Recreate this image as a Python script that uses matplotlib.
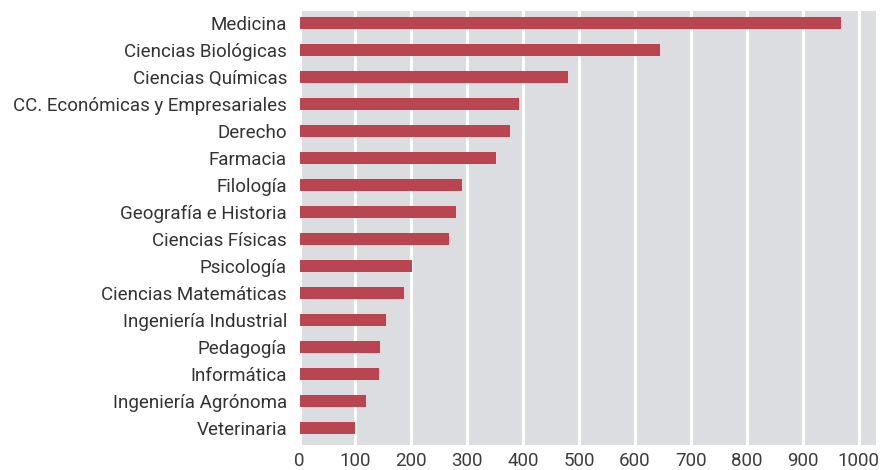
import matplotlib
matplotlib.use("Agg")
import matplotlib.pyplot as plt

categories = ["Medicina", "Ciencias Biológicas", "Ciencias Químicas",
              "CC. Económicas y Empresariales", "Derecho", "Farmacia", "Filología",
              "Geografía e Historia", "Ciencias Físicas", "Psicología",
              "Ciencias Matemáticas", "Ingeniería Industrial", "Pedagogía",
              "Informática", "Ingeniería Agrónoma", "Veterinaria"]
values = [969, 645, 481, 393, 377, 352, 291, 279, 268, 202, 187, 155, 144, 142, 119, 99]
xticks = [0, 100, 200, 300, 400, 500, 600, 700, 800, 900, 1000]

plt.rcParams['font.family'] = ['Roboto', 'DejaVu Sans']

fig = plt.figure(figsize=(8.8, 4.7), dpi=100)
ax = fig.add_axes([299.5/880, 25/470, (876-299.5)/880, (459-25)/470])
ax.set_facecolor("#dcdde0")
pos = list(range(len(categories)))
ax.barh(pos, values, height=0.42, color="#b94550", zorder=3)
ax.set_yticks(pos)
ax.set_yticklabels(categories, fontsize=13.5, color="#333333")
ax.set_xticks(xticks)
ax.set_xticklabels([str(t) for t in xticks], fontsize=13.5, color="#3c3c3c")
ax.set_xlim(0, 1031)
ax.set_ylim(len(categories) - 1 + 0.63, -0.44)
ax.tick_params(length=0)
ax.tick_params(axis='y', pad=9)
ax.tick_params(axis='x', pad=5)
ax.grid(axis='x', color='white', linewidth=2.2, zorder=1)
for s in ax.spines.values():
    s.set_visible(False)
fig.savefig("out.png", dpi=100)
